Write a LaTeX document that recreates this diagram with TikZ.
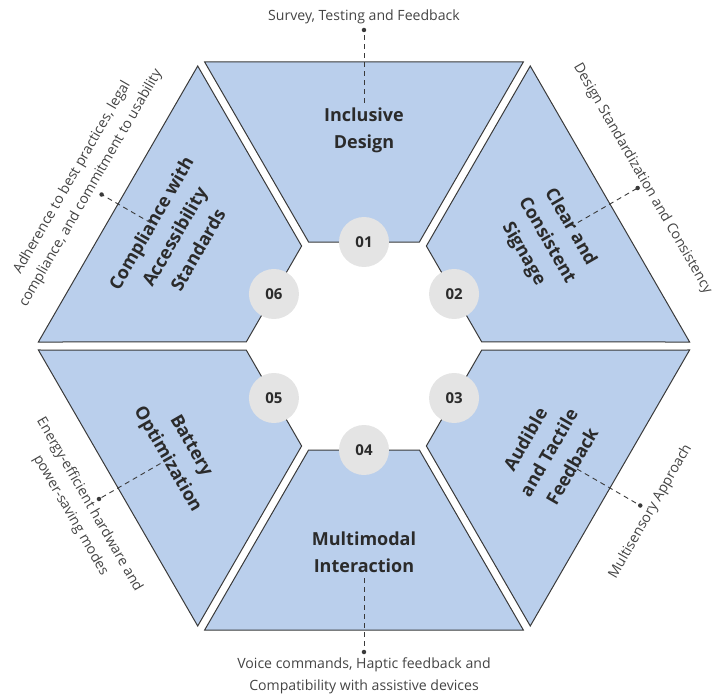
\documentclass[tikz,border=0pt]{standalone}
\usepackage{fontspec}
\setmainfont{Open Sans}
\definecolor{tileblue}{HTML}{BACFEC}
\definecolor{edgegray}{HTML}{3A3A3A}
\definecolor{discgray}{HTML}{E4E4E4}
\definecolor{titleink}{HTML}{2B2B2B}
\definecolor{noteink}{HTML}{444444}
\begin{document}
\begin{tikzpicture}[x=1pt,y=1pt,
  tile/.style={fill=tileblue, draw=edgegray, line width=1pt, line join=miter},
  title/.style={font=\bfseries\fontsize{18}{27}\selectfont, align=center, text=titleink, inner sep=0pt},
  note/.style={font=\fontsize{14.1}{21.5}\selectfont, align=center, text=noteink, inner sep=0pt},
  numdisc/.style={circle, fill=discgray, minimum size=50pt, inner sep=0pt,
                  font=\bfseries\fontsize{15}{15}\selectfont, text=titleink},
  leader/.style={draw=edgegray, line width=0.9pt, dash pattern=on 5pt off 4pt},
  dotmark/.style={circle, fill=edgegray, minimum size=4.5pt, inner sep=0pt}]
\useasboundingbox (-364,-351) rectangle (352,346);

% six trapezoidal tiles of the hexagon, separated by narrow gaps
\foreach \ang in {90,30,-30,-90,-150,150}{
  \begin{scope}[rotate=\ang-90]
    \draw[tile] (-159.35,284) -- (159.35,284) -- (55.4,104) -- (-55.4,104) -- cycle;
  \end{scope}
}

% number discs on the inner edges
\node[numdisc] (n1) at (90:104)   {01};
\node[numdisc] (n2) at (30:104)   {02};
\node[numdisc] (n3) at (-30:104)  {03};
\node[numdisc] (n4) at (-90:104)  {04};
\node[numdisc] (n5) at (-150:104) {05};
\node[numdisc] (n6) at (150:104)  {06};

% tile titles
\node[title] (t1) at (90:216)              {Inclusive\\Design};
\node[title, rotate=-60] (t2) at (30:211)  {Clear and\\Consistent\\Signage};
\node[title, rotate=60] (t3) at (-30:213)  {Audible\\and Tactile\\Feedback};
\node[title] (t4) at (-90:206)             {Multimodal\\Interaction};
\node[title, rotate=-60] (t5) at (-150:214){Battery\\Optimization};
\node[title, rotate=60] (t6) at (150:219)  {Compliance with\\Accessibility\\Standards};

% outer notes
\node[note] (o1) at (90:329)               {Survey, Testing and Feedback};
\node[note, rotate=-60] (o2) at (278.5,167.5) {Design Standardization and Consistency};
\node[note, rotate=60] (o3) at (-30:331)   {Multisensory Approach};
\node[note] (o4) at (-90:330)              {Voice commands, Haptic feedback and\\Compatibility with assistive devices};
\node[note, rotate=-60] (o5) at (-150:328) {Energy-efficient hardware and\\power-saving modes};
\node[note, rotate=60] (o6) at (150:326)   {Adherence to best practices, legal\\compliance, and commitment to usability};

% dashed leaders from titles to notes
\coordinate (s1) at (90:243);
\coordinate (s2) at (30:247);
\coordinate (s3) at (-30:246);
\coordinate (s4) at (-90:232);
\coordinate (s5) at (-150:226);
\coordinate (s6) at (150:246);
\node[dotmark] (d1) at (90:316) {};
\node[dotmark] (d2) at (30:316) {};
\node[dotmark] (d3) at (-30:319) {};
\node[dotmark] (d4) at (-90:306) {};
\node[dotmark] (d5) at (-150:306) {};
\node[dotmark] (d6) at (150:303) {};
\foreach \i in {1,...,6}{
  \draw[leader] (s\i) -- (d\i.center);
}
\end{tikzpicture}
\end{document}
